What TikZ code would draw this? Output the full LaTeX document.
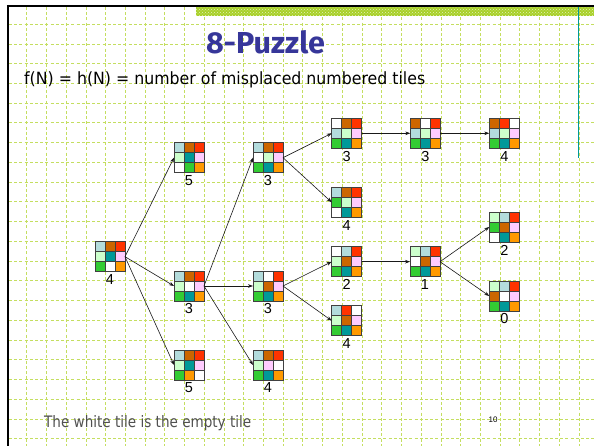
\documentclass[tikz,border=0pt]{standalone}
\usepackage{fontspec}
\setmainfont{DejaVu Sans}
\newfontfamily\labfont{Liberation Sans}
\newfontfamily\titfont{Fira Sans}
\usetikzlibrary{arrows.meta,patterns}
\definecolor{cLB}{HTML}{B3DCDC}
\definecolor{cBR}{HTML}{CC6600}
\definecolor{cRD}{HTML}{FF3300}
\definecolor{cLG}{HTML}{CCFFCC}
\definecolor{cTL}{HTML}{009999}
\definecolor{cPK}{HTML}{FFCCFF}
\definecolor{cGR}{HTML}{33CC33}
\definecolor{cWH}{HTML}{FFFFFF}
\definecolor{cOR}{HTML}{FF9900}
\definecolor{gridc}{RGB}{196,222,96}
\definecolor{bandc}{RGB}{168,208,40}
\definecolor{titlec}{HTML}{363699}
\definecolor{graytxt}{HTML}{505050}
\tikzset{
  gridline/.style={draw=gridc, line width=0.8pt, dash pattern=on 3pt off 2.2pt},
  puzbox/.style={minimum size=30pt, inner sep=0pt, outer sep=0pt, draw=none},
  cellline/.style={draw=black!75, line width=0.8pt},
  numlab/.style={font=\labfont\fontsize{14.5}{16}\selectfont, inner sep=0pt},
  edge/.style={draw=black!90, line width=0.6pt, -{Stealth[length=5pt,width=3.6pt]}}
}
\newcommand\puz[5]{%
  \node[puzbox] (#1) at (#2,#3) {};
  \foreach \c [count=\i from 0] in {#4}{%
    \pgfmathtruncatemacro\pzc{mod(\i,3)}%
    \pgfmathtruncatemacro\pzr{div(\i,3)}%
    \filldraw[fill=\c, cellline] ({#2-15+10*\pzc},{#3-15+10*\pzr}) rectangle ++(10,10);
  }
  \node[numlab] (#1-lab) at (#2,#3+23) {#5};
}
\begin{document}
\begin{tikzpicture}[x=1pt,y=-1pt]
\useasboundingbox (0,0) rectangle (594,446);
\fill[white] (0,0) rectangle (594,446);
% grid
\foreach \k in {0,...,28} \draw[gridline] ({26.8+19.72*\k},7) -- ({26.8+19.72*\k},446);
\foreach \k in {0,...,21} \draw[gridline] (9,{24.2+19.74*\k}) -- (594,{24.2+19.74*\k});
% top band
\fill[bandc] (196,7) rectangle (594,16);
\fill[pattern=crosshatch dots, pattern color=bandc!30!white] (196,7) rectangle (594,16);
% frame
\draw[line width=2.5pt] (6.8,6) -- (594,6);
\draw[line width=2.5pt] (8,4.8) -- (8,446);
\draw[cTL, line width=0.9pt] (578,7) -- (578,158);
% texts
\node[text=titlec, inner sep=0pt] (title) at (265.5,42) {\resizebox{119pt}{23pt}{\titfont\bfseries\fontsize{32}{34}\selectfont 8-Puzzle}};
\node[anchor=base west, inner sep=0pt] (sub) at (24,84.5) {\resizebox{401pt}{12.8pt}{\fontsize{16}{18}\selectfont f(N) = h(N) = number of misplaced numbered tiles}};
\node[anchor=base west, inner sep=0pt, text=graytxt] (foot) at (44,427.5) {\resizebox{207pt}{12pt}{\fontsize{12}{14}\selectfont The white tile is the empty tile}};
\node[inner sep=0pt, font=\labfont\fontsize{8}{9}\selectfont] (pg) at (493,420) {10};
% puzzles
\puz{root}{110}{256.7}{cLB,cBR,cRD,cLG,cTL,cPK,cGR,cWH,cOR}{4}
\puz{A}{189}{157.7}{cLB,cBR,cRD,cLG,cTL,cPK,cWH,cGR,cOR}{5}
\puz{B}{268}{157.7}{cLB,cBR,cRD,cWH,cLG,cPK,cGR,cTL,cOR}{3}
\puz{C}{189}{286}{cLB,cBR,cRD,cLG,cWH,cPK,cGR,cTL,cOR}{3}
\puz{D}{268}{286}{cLB,cWH,cRD,cLG,cBR,cPK,cGR,cTL,cOR}{3}
\puz{E}{189}{365}{cLB,cBR,cRD,cLG,cTL,cPK,cGR,cOR,cWH}{5}
\puz{F}{268}{365}{cLB,cBR,cRD,cLG,cPK,cWH,cGR,cTL,cOR}{4}
\puz{G}{346.7}{133.3}{cWH,cBR,cRD,cLB,cLG,cPK,cGR,cTL,cOR}{3}
\puz{H}{425.3}{133.3}{cBR,cWH,cRD,cLB,cLG,cPK,cGR,cTL,cOR}{3}
\puz{I}{504.3}{133.3}{cBR,cRD,cWH,cLB,cLG,cPK,cGR,cTL,cOR}{4}
\puz{J}{346.7}{202.3}{cLB,cBR,cRD,cGR,cLG,cPK,cWH,cTL,cOR}{4}
\puz{K}{504.3}{227}{cLG,cLB,cRD,cGR,cBR,cPK,cWH,cTL,cOR}{2}
\puz{L}{346.7}{261.7}{cWH,cLB,cRD,cLG,cBR,cPK,cGR,cTL,cOR}{2}
\puz{M}{425}{261.7}{cLG,cLB,cRD,cWH,cBR,cPK,cGR,cTL,cOR}{1}
\puz{N}{504.3}{296}{cLG,cLB,cRD,cBR,cWH,cPK,cGR,cTL,cOR}{0}
\puz{O}{346.7}{320.7}{cLB,cRD,cWH,cLG,cBR,cPK,cGR,cTL,cOR}{4}
% edges
\draw[edge] (root.east) -- (A.west);
\draw[edge] (root.east) -- (C.west);
\draw[edge] (root.east) -- (E.west);
\draw[edge] (C.east) -- (B.west);
\draw[edge] (C.east) -- (D.west);
\draw[edge] (C.east) -- (F.west);
\draw[edge] (B.east) -- (G.west);
\draw[edge] (B.east) -- (J.west);
\draw[edge] (G.east) -- (H.west);
\draw[edge] (H.east) -- (I.west);
\draw[edge] (D.east) -- (L.west);
\draw[edge] (D.east) -- (O.west);
\draw[edge] (L.east) -- (M.west);
\draw[edge] (M.east) -- (K.west);
\draw[edge] (M.east) -- (N.west);
\end{tikzpicture}
\end{document}
